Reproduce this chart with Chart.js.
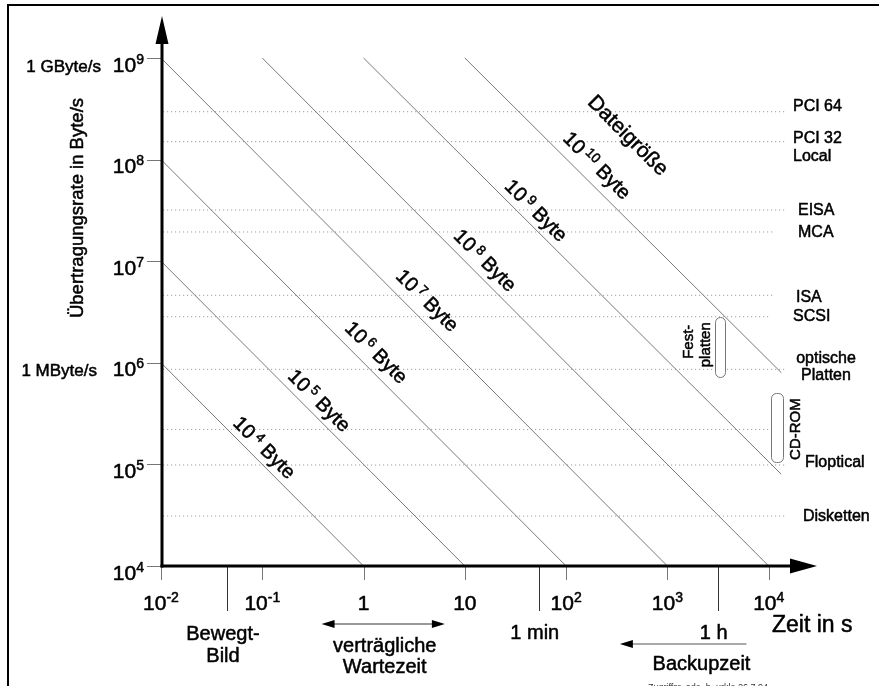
<!DOCTYPE html>
<html><head><meta charset="utf-8">
<script src="https://cdn.jsdelivr.net/npm/chart.js@4/dist/chart.umd.min.js"></script>
<style>html,body{margin:0;padding:0;background:#fff}canvas{display:block}</style>
</head><body>
<canvas id="c" width="879" height="686"></canvas>
<script>
// ---- data ----
const sizeExponents = [4, 5, 6, 7, 8, 9, 10];            // file size 10^k Byte
const lineStartTime = [0.01, 0.01, 0.01, 0.01, 0.1, 1, 10];
const lineStartRate = [1e6, 1e7, 1e8, 1e9, 1e9, 1e9, 1e9];
const lineEndTime   = [1, 10, 100, 1000, 1e4, 1.33e4, 1.33e4];
const lineEndRate   = [1e4, 1e4, 1e4, 1e4, 1e4, 8e4, 8e5];

const busNames   = ['PCI 64', 'PCI 32 Local', 'EISA', 'MCA', 'ISA', 'SCSI', 'optische Platten', 'CD-ROM', 'Floptical', 'Disketten'];
const busRates   = [2.96e8, 1.5e8, 3.19e7, 1.94e7, 4.62e6, 2.84e6, 8.63e5, 2.21e5, 9.86e4, 3.1e4];
const busEndTime = [1.44e4, 1.44e4, 1.44e4, 1.1e4, 1.1e4, 1.0e4, 1.52e4, 1.3e4, 1.52e4, 1.52e4];
const busLabelLines = [['PCI 64'], ['PCI 32', 'Local'], ['EISA'], ['MCA'], ['ISA'], ['SCSI'], ['optische', 'Platten'], [], ['Floptical'], ['Disketten']];

const rateTickExp = [4, 5, 6, 7, 8, 9];
const timeTickExp = [-2, -1, 0, 1, 2, 3, 4];
const rateNames = {9: '1 GByte/s', 6: '1 MByte/s'};

const markTimes  = [0.0448, 53.7, 3140];
const markLabels = [['Bewegt-', 'Bild'], ['1 min'], ['1 h']];

const deviceNames   = [['Fest-', 'platten'], ['CD-ROM']];
const deviceTimeLo  = [2930, 1.064e4];
const deviceTimeHi  = [3680, 1.37e4];
const deviceRateLo  = [7.3e5, 1.06e5];
const deviceRateHi  = [2.84e6, 5.0e5];

const diagLabelTime = [0.106, 0.37, 1.35, 4.3, 16, 51, 204];
const diagLabelRate = [1.48e5, 4.3e5, 1.28e6, 4.15e6, 1.03e7, 3.19e7, 8.85e7];
const headTime = 404, headRate = 1.71e8;

const waitRange   = [0.385, 6.35];
const backupRange = [339, 6030];

// ---- datasets ----
const datasets = [];
sizeExponents.forEach((k, i) => {
  datasets.push({
    label: '10^' + k + ' Byte',
    data: [{x: lineStartTime[i], y: lineStartRate[i]}, {x: lineEndTime[i], y: lineEndRate[i]}],
    showLine: true, borderColor: '#7a7a7a', borderWidth: 1, pointRadius: 0
  });
});
busNames.forEach((n, i) => {
  datasets.push({
    label: n,
    data: [{x: 0.0105, y: busRates[i]}, {x: busEndTime[i], y: busRates[i]}],
    showLine: true, borderColor: '#8c8c8c', borderWidth: 1, borderDash: [1, 3], pointRadius: 0
  });
});

const FAM = '"Liberation Sans", Arial, Helvetica, sans-serif';
const F = s => s + 'px ' + FAM;

function ft(c, s, x, y) {
  c.save(); c.strokeStyle = c.fillStyle; c.lineWidth = 0.5; c.lineJoin = 'round';
  c.fillText(s, x, y); c.strokeText(s, x, y); c.restore();
}
function rich(c, segs, x, y, align) {
  let w = 0;
  segs.forEach(s => { c.font = F(s.size); s.w = c.measureText(s.t).width; w += s.w + (s.gap || 0); });
  let sx = align === 'center' ? x - w / 2 : (align === 'right' ? x - w : x);
  c.textAlign = 'left';
  segs.forEach(s => { c.font = F(s.size); ft(c, s.t, sx, y - (s.rise || 0)); sx += s.w + (s.gap || 0); });
}
function powSegs(e, big, small) {
  if (e === 0) return [{t: '1', size: big}];
  if (e === 1) return [{t: '10', size: big}];
  return [{t: '10', size: big}, {t: String(e), size: small, rise: 8}];
}
function rrect(c, x0, y0, x1, y1, r) {
  c.beginPath();
  c.moveTo(x0 + r, y0); c.lineTo(x1 - r, y0); c.arcTo(x1, y0, x1, y0 + r, r);
  c.lineTo(x1, y1 - r); c.arcTo(x1, y1, x1 - r, y1, r);
  c.lineTo(x0 + r, y1); c.arcTo(x0, y1, x0, y1 - r, r);
  c.lineTo(x0, y0 + r); c.arcTo(x0, y0, x0 + r, y0, r);
  c.closePath();
}

const overlay = {
  id: 'overlay',
  beforeDraw(chart) {
    const c = chart.ctx; c.save(); c.fillStyle = '#fff'; c.fillRect(0, 0, chart.width, chart.height); c.restore();
  },
  afterDatasetsDraw(chart) {
    const c = chart.ctx, xs = chart.scales.x, ys = chart.scales.y;
    const X = v => xs.getPixelForValue(v), Y = v => ys.getPixelForValue(v);
    const line = (a, b, d, e) => { c.beginPath(); c.moveTo(a, b); c.lineTo(d, e); c.stroke(); };
    c.save();
    c.fillStyle = '#000';
    c.textBaseline = 'alphabetic';

    // frame
    c.strokeStyle = '#000'; c.lineWidth = 2;
    c.beginPath(); c.moveTo(8, 690); c.lineTo(8, 5); c.lineTo(885, 5); c.stroke();

    const ax = X(0.01) + 1, ay = Y(1e4);

    // device rounded boxes
    c.lineWidth = 1; c.strokeStyle = '#777';
    deviceNames.forEach((n, i) => {
      const x0 = X(deviceTimeLo[i]), x1 = X(deviceTimeHi[i]);
      const y0 = Y(deviceRateHi[i]), y1 = Y(deviceRateLo[i]);
      rrect(c, Math.round(x0) + 0.5, Math.round(y0) + 0.5, Math.round(x1) + 0.5, Math.round(y1) + 0.5, 5);
      c.fillStyle = '#fff'; c.fill(); c.stroke();
      c.fillStyle = '#000';
      c.font = F(15); c.textAlign = 'center'; c.textBaseline = 'middle';
      const cy = (y0 + y1) / 2;
      if (i === 0) {
        c.save(); c.translate(x0 - 26, cy - 5); c.rotate(-Math.PI / 2); ft(c, n[0], 0, 0); c.restore();
        c.save(); c.translate(x0 - 9, cy - 2); c.rotate(-Math.PI / 2); ft(c, n[1], 0, 0); c.restore();
      } else {
        c.save(); c.translate(x1 + 13, cy + 1.5); c.rotate(-Math.PI / 2); ft(c, n[0], 0, 0); c.restore();
      }
      c.textBaseline = 'alphabetic';
    });

    // ticks
    c.lineWidth = 1; c.strokeStyle = '#777';
    rateTickExp.forEach(e => { const y = Math.round(Y(Math.pow(10, e))) + 0.5; line(147, y, ax, y); });
    timeTickExp.forEach(e => { const x = Math.round(X(Math.pow(10, e))) + 0.5; line(x, ay, x, ay + 14); });
    c.strokeStyle = '#333';
    markTimes.forEach(t => { const x = Math.round(X(t)) + 0.5; line(x, ay, x, ay + 45); });

    // axes
    c.strokeStyle = '#000'; c.lineWidth = 3;
    line(ax, ay + 1.5, ax, 40);
    line(ax - 1.5, ay, 793, ay);
    c.beginPath(); c.moveTo(ax, 16); c.lineTo(ax - 6.5, 44); c.lineTo(ax + 6.5, 44); c.closePath(); c.fill();
    c.beginPath(); c.moveTo(817, ay); c.lineTo(790, ay - 7.5); c.lineTo(790, ay + 7.5); c.closePath(); c.fill();

    // y tick labels
    rateTickExp.forEach(e => {
      const y = Y(Math.pow(10, e)) + 13.5;
      rich(c, powSegs(e, 21, 14), 144, y, 'right');
      if (rateNames[e]) { c.font = F(17); c.textAlign = 'right'; ft(c, rateNames[e], e === 9 ? 101 : 97, y); }
    });
    // x tick labels
    timeTickExp.forEach(e => { rich(c, powSegs(e, 21, 14), X(Math.pow(10, e)), ay + 44, 'center'); });

    // y axis title
    c.save(); c.translate(78, 208); c.rotate(-Math.PI / 2);
    c.font = F(18.5); c.textAlign = 'center'; c.textBaseline = 'middle';
    ft(c, 'Übertragungsrate in Byte/s', 0, 0); c.restore();

    // x axis title
    c.font = F(23); c.textAlign = 'left'; ft(c, 'Zeit in s', 772, ay + 66);

    // mark labels
    c.font = F(20); c.textAlign = 'center';
    markTimes.forEach((t, i) => {
      const x = X(t) - 4;
      markLabels[i].forEach((s, j) => ft(c, s, x, (i === 0 ? ay + 74 : ay + 73) + j * 22));
    });

    // waiting-time arrow
    const w0 = X(waitRange[0]), w1 = X(waitRange[1]), wy = ay + 58;
    c.strokeStyle = '#777'; c.lineWidth = 1.5; line(w0 + 8, wy, w1 - 8, wy);
    c.beginPath(); c.moveTo(w0, wy); c.lineTo(w0 + 13, wy - 4); c.lineTo(w0 + 13, wy + 4); c.closePath(); c.fill();
    c.beginPath(); c.moveTo(w1, wy); c.lineTo(w1 - 13, wy - 4); c.lineTo(w1 - 13, wy + 4); c.closePath(); c.fill();
    c.font = F(20); c.textAlign = 'center';
    ft(c, 'verträgliche', (w0 + w1) / 2 + 1.5, ay + 86);
    ft(c, 'Wartezeit', (w0 + w1) / 2 + 1.5, ay + 107);

    // backup arrow
    const b0 = X(backupRange[0]), b1 = X(backupRange[1]), by = ay + 78;
    c.strokeStyle = '#555'; c.lineWidth = 1.2; line(b0 + 8, by, b1, by);
    c.beginPath(); c.moveTo(b0, by); c.lineTo(b0 + 13, by - 4); c.lineTo(b0 + 13, by + 4); c.closePath(); c.fill();
    ft(c, 'Backupzeit', b1 - 45, ay + 104);

    // bus labels
    c.font = F(16); c.textBaseline = 'middle';
    const busX = [793, 793, 798, 798, 796, 793, 826, 0, 805, 803];
    const busDy = [[-5], [-2.7, 15.3], [0.7], [0.7], [2.4], [0], [-10.3, 6.7], [], [-2.3], [0.7]];
    busLabelLines.forEach((ls, i) => {
      const y = Y(busRates[i]);
      c.textAlign = i === 6 ? 'center' : 'left';
      ls.forEach((s, j) => ft(c, s, busX[i], y + busDy[i][j]));
    });
    c.textBaseline = 'alphabetic';

    // diagonal labels
    sizeExponents.forEach((k, i) => {
      c.save(); c.translate(X(diagLabelTime[i]), Y(diagLabelRate[i])); c.rotate(Math.PI / 4);
      rich(c, [{t: '10', size: 20, gap: 3.5}, {t: String(k), size: 13.5, rise: 6.5}, {t: ' Byte', size: 20}], 0, 7.2, 'center');
      c.restore();
    });
    c.save(); c.translate(X(headTime), Y(headRate)); c.rotate(Math.PI / 4);
    c.font = F(21); c.textAlign = 'center'; c.textBaseline = 'middle'; ft(c, 'Dateigröße', 0, 0); c.restore();

    // footer
    c.font = F(9); c.textAlign = 'left'; c.fillStyle = '#333';
    c.fillText('Zugriffsr_ade_b_urkle 26.7.94', 648, 690);
    c.restore();
  }
};

new Chart(document.getElementById('c'), {
  type: 'scatter',
  data: {datasets},
  options: {
    responsive: false, animation: false, devicePixelRatio: 1,
    layout: {padding: {left: 161, right: 9, top: 17.36, bottom: 120}},
    scales: {
      x: {type: 'logarithmic', min: 0.01, max: 1e5, display: false},
      y: {type: 'logarithmic', min: 1e4, max: Math.pow(10, 9.4), display: false}
    },
    plugins: {legend: {display: false}, tooltip: {enabled: false}},
    elements: {point: {radius: 0}}
  },
  plugins: [overlay]
});
</script>
</body></html>
